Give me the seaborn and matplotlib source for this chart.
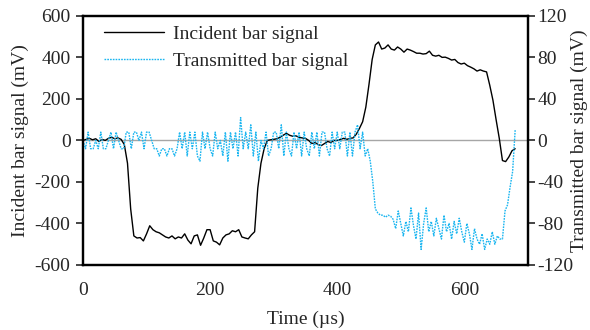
import numpy as np
import pandas as pd
import matplotlib
matplotlib.use("Agg")
import matplotlib.pyplot as plt
import seaborn as sns

# ---------------- data ----------------
incident_dt = 5  # µs sample spacing
incident_mv = [
    0, 5, 10, 3, 8, -5, 5, 0, 10, 15, 8, 12, 5,
    -20, -110, -330, -460, -470, -468, -484, -450, -411, -430, -440, -445,
    -455, -465, -470, -460, -474, -465, -470, -450, -480, -498, -460, -455,
    -505, -470, -430, -430, -484, -490, -503, -470, -455, -450, -435, -440,
    -430, -465, -470, -474, -455, -440, -230, -110, -40, 0, 3, 5, 8, 15,
    25, 34, 25, 20, 22, 15, 12, 10, 0, -15, -10, -20, -25, -15, -5, -10,
    0, 0, 5, 10, 5, 10, 12, 30, 58, 90, 160, 270, 390, 460, 474, 440, 445,
    460, 440, 435, 450, 440, 425, 440, 435, 428, 420, 420, 416, 418, 430,
    410, 406, 410, 400, 401, 395, 387, 390, 375, 368, 372, 360, 353, 345,
    334, 340, 334, 330, 266, 194, 100, 10, -97, -102, -80, -50, -40,
]

transmitted_dt = 4  # µs sample spacing
transmitted_mv = [
    0, -8, 8, -8, -8, 0, -8, 8, -8, -8, 0, 8, -8, 8, 0, -8,
    -8, 8, 8, -8, 8, 8, 0, 8, -8, 8, 8, 0,
    -8, -8, -15, -8, -8, -15, -8, -8, -15, -8,
    8, -8, 8, -15, 8, -8, 8, -15, -20, 8, -8, 8, -8,
    -15, 8, -8, 0, -15, 8, -20, 8, -8, 8, -15, 22, -8,
    8, -8, 15, -15, 8, -20, 0, -8, 8, -15, -8, 8,
    8, -8, 15, -15, 8, -8, -15, 8, -8, 8, -15, 8, -8,
    -15, 8, -8, 8, -15, 8, 8, -8, -15, 8, -8, 8,
    -8, 8, 8, -15, 8, -15, 8, 15, -8, 8, -15, -8, -20,
    -40, -66, -70,
    -72, -72, -74, -72, -73, -76,
    -85, -68, -80, -92, -78, -88, -65, -82, -95, -70, -105, -80, -65, -88,
    -78, -92, -75, -85, -95, -72, -88, -80, -95, -78, -90, -75, -88, -98,
    -80, -90, -105, -85, -95, -100, -90, -105, -95, -100, -88, -100, -92, -95,
    -95, -68, -62, -45, -30, 10,
]

x_ticks = [0, 200, 400, 600]
left_ticks = [-600, -400, -200, 0, 200, 400, 600]
right_ticks = [-120, -80, -40, 0, 40, 80, 120]

inc_df = pd.DataFrame({"t": np.arange(len(incident_mv)) * incident_dt,
                       "v": incident_mv})
tr_df = pd.DataFrame({"t": np.arange(len(transmitted_mv)) * transmitted_dt,
                      "v": transmitted_mv})

# ---------------- style ----------------
sns.set_style("white")
plt.rcParams["font.family"] = ["Liberation Serif", "DejaVu Serif"]
plt.rcParams["font.size"] = 14
plt.rcParams["axes.unicode_minus"] = False

FS = 14
fig = plt.figure(figsize=(5.9, 3.3), dpi=100)
ax = fig.add_axes([0.1407, 0.197, 0.754, 0.755])
ax2 = ax.twinx()

ax.axhline(0, color="#a6a6a6", lw=1.0, zorder=1)

sns.lineplot(data=inc_df, x="t", y="v", ax=ax, color="black", lw=1.0,
             label="Incident bar signal", legend=False, zorder=3)
sns.lineplot(data=tr_df, x="t", y="v", ax=ax2, color="#19b5f0", lw=1.0,
             linestyle=(0, (1.2, 0.8)), label="Transmitted bar signal",
             legend=False, zorder=2)

ax.set_xlim(0, 700)
ax.set_ylim(-600, 600)
ax2.set_ylim(-120, 120)
ax.set_xticks(x_ticks)
ax.set_yticks(left_ticks)
ax2.set_yticks(right_ticks)

ax.set_xlabel("Time (µs)", fontsize=FS, labelpad=9)
ax.set_ylabel("Incident bar signal (mV)", fontsize=FS, labelpad=4)
ax2.set_ylabel("Transmitted bar signal (mV)", fontsize=FS)
ax2.yaxis.set_label_coords(1.097, 0.5)

for a in (ax, ax2):
    for s in a.spines.values():
        s.set_color("black")
        s.set_linewidth(1.6)
ax.tick_params(axis="y", direction="out", length=5, width=1.2, labelsize=FS,
               pad=4, left=True)
ax.tick_params(axis="x", length=0, labelsize=FS, pad=12)
ax2.tick_params(axis="y", direction="out", length=5, width=1.2, labelsize=FS,
                pad=2, right=True)

h1, l1 = ax.get_legend_handles_labels()
h2, l2 = ax2.get_legend_handles_labels()
ax2.legend(h1 + h2, l1 + l2, loc="upper left", frameon=False, fontsize=FS,
           handlelength=3.1, handletextpad=0.45, labelspacing=0.45,
           bbox_to_anchor=(0.025, 1.0), borderaxespad=0.1)

fig.savefig("out.png", dpi=100)
